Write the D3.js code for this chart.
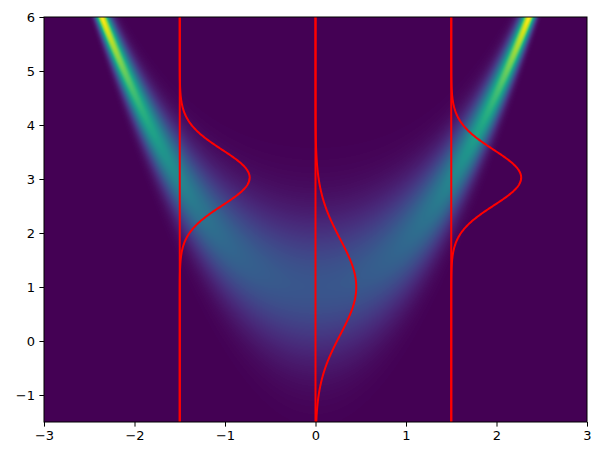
<!DOCTYPE html>
<html>
<head>
<meta charset="utf-8">
<script src="https://cdn.jsdelivr.net/npm/d3@7"></script>
<style>
  body { margin: 0; background: #fff; }
  svg { display: block; font-family: "DejaVu Sans", sans-serif; }
</style>
</head>
<body>
<div id="chart"></div>
<script>
// axis ranges and ticks
const xDomain = [-3, 3]
const yDomain = [-1.5, 6]
const xTicks = [-3, -2, -1, 0, 1, 2, 3]
const yTicks = [-1, 0, 1, 2, 3, 4, 5, 6]

// conditional density p(y|x): gaussian
const meanCoef = [1, 0.9]     // mean(x) = a + b*x^2
const sdCoef = [0.886, 0.24]  // sd(x) = a*exp(-b*x^2)

// x positions of the red slice profiles
const profileX = [-1.5, 0, 1.5]

const width = 603
const height = 459
const margin = { top: 17, right: 16, bottom: 37, left: 44 }
const plotW = width - margin.left - margin.right
const plotH = height - margin.top - margin.bottom

const meanAt = (x) => meanCoef[0] + meanCoef[1] * x * x
const sdAt = (x) => sdCoef[0] * Math.exp(-sdCoef[1] * x * x)
const pdf = (x, y) => {
  const s = sdAt(x)
  const z = (y - meanAt(x)) / s
  return Math.exp(-0.5 * z * z) / (s * Math.sqrt(2 * Math.PI))
}

const xScale = d3.scaleLinear().domain(xDomain).range([0, plotW])
const yScale = d3.scaleLinear().domain(yDomain).range([plotH, 0])

const svg = d3.select('#chart')
  .append('svg')
  .attr('width', width)
  .attr('height', height)

const g = svg.append('g')
  .attr('transform', `translate(${margin.left},${margin.top})`)

// Heatmap: draw density to a canvas, then embed as image
const canvas = document.createElement('canvas')
canvas.width = plotW
canvas.height = plotH
const ctx = canvas.getContext('2d')
const vals = new Float64Array(plotW * plotH)
let vmax = 0
for (let j = 0; j < plotH; j++) {
  const y = yScale.invert(j + 0.5)
  for (let i = 0; i < plotW; i++) {
    const v = pdf(xScale.invert(i + 0.5), y)
    vals[j * plotW + i] = v
    if (v > vmax) vmax = v
  }
}
const color = d3.scaleSequential(d3.interpolateViridis).domain([0, 1])
const lut = d3.range(256).map((k) => d3.rgb(color(k / 255)))
const img = ctx.createImageData(plotW, plotH)
for (let k = 0; k < vals.length; k++) {
  const c = lut[Math.min(255, Math.floor(vals[k] / vmax * 256))]
  img.data[k * 4] = c.r
  img.data[k * 4 + 1] = c.g
  img.data[k * 4 + 2] = c.b
  img.data[k * 4 + 3] = 255
}
ctx.putImageData(img, 0, 0)

g.append('image')
  .attr('width', plotW)
  .attr('height', plotH)
  .attr('preserveAspectRatio', 'none')
  .attr('href', canvas.toDataURL())

// clip for red lines
g.append('clipPath').attr('id', 'plot-clip')
  .append('rect')
  .attr('width', plotW)
  .attr('height', plotH)

const ySamples = d3.range(yDomain[0], yDomain[1] + 0.001, 0.01)
const line = d3.line()
  .x((d) => xScale(d[0]))
  .y((d) => yScale(d[1]))

const profiles = g.append('g').attr('clip-path', 'url(#plot-clip)')
profileX.forEach((px) => {
  profiles.append('line')
    .attr('x1', xScale(px)).attr('x2', xScale(px))
    .attr('y1', yScale(yDomain[0])).attr('y2', yScale(yDomain[1]))
    .attr('stroke', 'red')
    .attr('stroke-width', 2)
  profiles.append('path')
    .datum(ySamples.map((y) => [px + pdf(px, y), y]))
    .attr('d', line)
    .attr('fill', 'none')
    .attr('stroke', 'red')
    .attr('stroke-width', 2)
})

// Axes
const fmt = d3.format('d')
const xAxis = d3.axisBottom(xScale).tickValues(xTicks).tickFormat(fmt)
  .tickSize(4.6).tickPadding(4.4)
const yAxis = d3.axisLeft(yScale).tickValues(yTicks).tickFormat(fmt)
  .tickSize(4.6).tickPadding(4.4)

g.append('g')
  .attr('transform', `translate(0,${plotH})`)
  .call(xAxis)
  .call((a) => a.select('.domain').remove())
g.append('g')
  .call(yAxis)
  .call((a) => a.select('.domain').remove())

svg.selectAll('.tick text')
  .attr('font-size', 13)
  .attr('font-family', '"DejaVu Sans", sans-serif')
  .attr('fill', '#000')
svg.selectAll('.tick line').attr('stroke', '#000').attr('stroke-width', 1)

// frame
g.append('rect')
  .attr('width', plotW)
  .attr('height', plotH)
  .attr('fill', 'none')
  .attr('stroke', '#000')
  .attr('stroke-width', 1)
</script>
</body>
</html>
